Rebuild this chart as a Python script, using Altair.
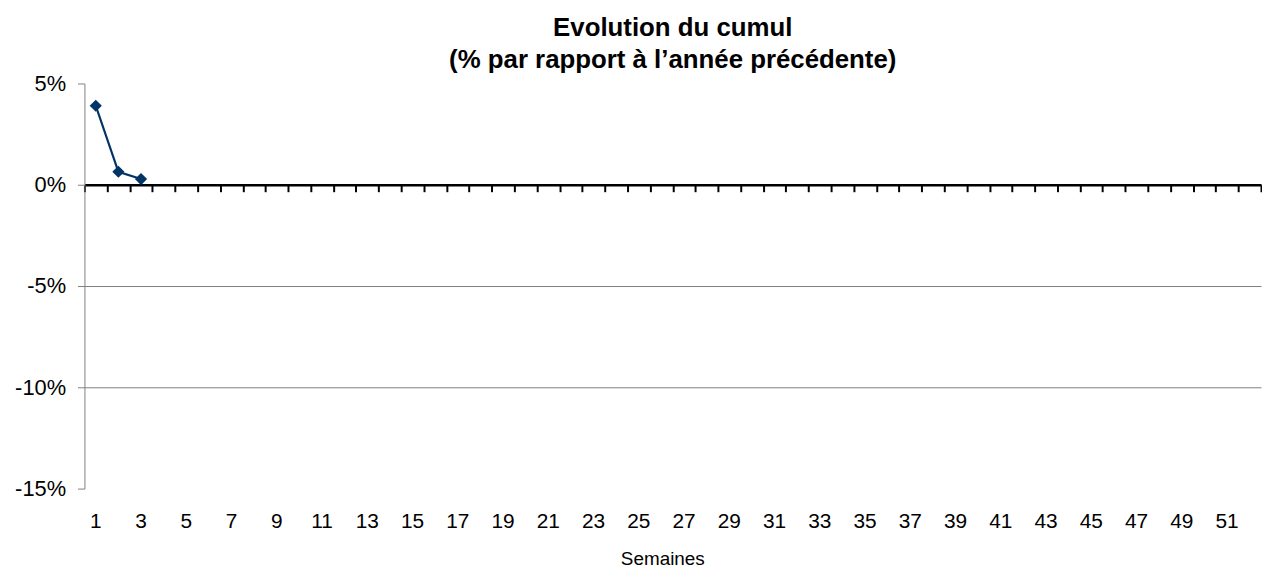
import altair as alt
import pandas as pd

# Data
weeks = list(range(1, 53))
obs_weeks = [1, 2, 3]
obs_values = [3.9, 0.64, 0.28]          # % vs previous year
y_ticks = [-15, -10, -5, 0, 5]
x_label_weeks = [w for w in weeks if w % 2 == 1]

title_lines = ["Evolution du cumul", "(% par rapport à l’année précédente)"]
x_title = "Semaines"

FONT = "Liberation Sans"
W, H = 1185, 408
YMIN, YMAX = min(y_ticks), max(y_ticks)
zero_offset = -H * (0 - YMIN) / (YMAX - YMIN)

df = pd.DataFrame({"week": obs_weeks, "value": obs_values})
df_all = pd.DataFrame({"week": weeks})

xscale = alt.Scale(domain=weeks, paddingInner=0, paddingOuter=0)
yscale = alt.Scale(domain=[YMIN, YMAX], nice=False, zero=False)

label_axis = alt.Axis(
    values=x_label_weeks, domain=False, ticks=False, tickSize=0,
    labelFont=FONT, labelFontSize=21, labelColor="#000000", labelPadding=22,
    labelAngle=0, grid=False, title=x_title, titleFont=FONT, titleFontSize=19,
    titleFontWeight="normal", titleColor="#000000", titlePadding=18, titleX=582,
)

y_axis = alt.Axis(
    values=y_ticks, labelExpr="datum.value + '%'", labelFont=FONT, labelFontSize=22,
    labelColor="#000000", labelPadding=12, tickSize=7, tickColor="#808080",
    domainColor="#808080", domainWidth=1, grid=True, gridColor="#7f7f7f", gridWidth=1,
    gridOpacity={"condition": {"test": "datum.value == 5 || datum.value == -15 || datum.value == 0", "value": 0}, "value": 1},
    title=None,
)

zero_axis = alt.Axis(
    orient="bottom", offset=zero_offset, labels=False, title=None, grid=False,
    domain=True, domainColor="#000000", domainWidth=2.5,
    ticks=True, tickBand="extent", tickColor="#000000", tickWidth=2, tickSize=7,
)

base = alt.Chart(df).encode(
    x=alt.X("week:O", scale=xscale, axis=label_axis),
    y=alt.Y("value:Q", scale=yscale, axis=y_axis),
)
line = base.mark_line(color="#003366", strokeWidth=2.2)
pts = base.mark_point(shape="diamond", filled=True, size=150, color="#003366", opacity=1)

zero = alt.Chart(df_all).mark_point(opacity=0).encode(
    x=alt.X("week:O", scale=xscale, axis=zero_axis),
)

chart = alt.layer(line + pts, zero).resolve_axis(x="independent").properties(
    width=W, height=H,
    padding={"left": 6, "top": 5, "right": 0, "bottom": 0},
    title=alt.Title(title_lines, font=FONT, fontSize=26, fontWeight="bold",
                    color="#000000", lineHeight=32, anchor="middle", offset=0),
).configure_view(stroke=None)

chart.save("out.html", embed_options={"renderer": "svg", "actions": False})
